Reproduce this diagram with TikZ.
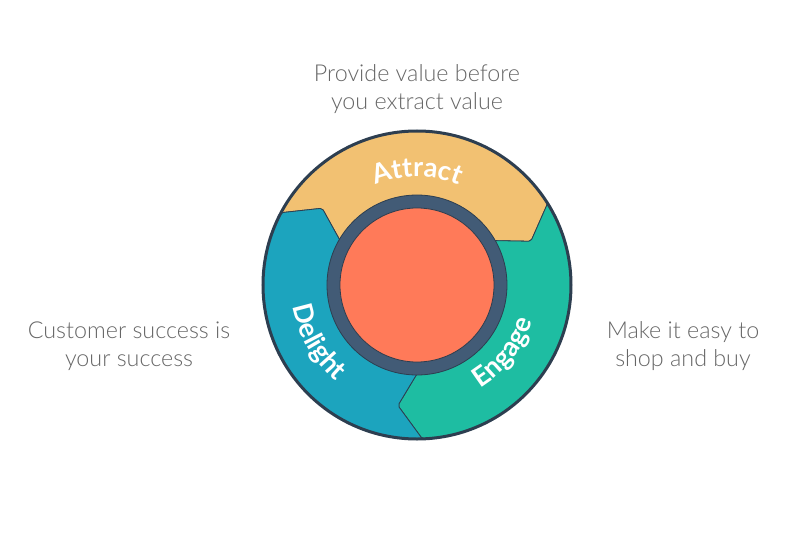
\documentclass[tikz,border=0pt]{standalone}
\usepackage{fontspec}
\setmainfont{Lato}
\newfontfamily\lightfont{Lato Light}
\usepackage{tikz}
\usetikzlibrary{decorations.text}
\definecolor{outline}{HTML}{2D3E50}
\definecolor{ringblue}{HTML}{425B76}
\definecolor{hubred}{HTML}{FF7A59}
\definecolor{attractc}{HTML}{F2C172}
\definecolor{engagec}{HTML}{1EBDA2}
\definecolor{delightc}{HTML}{1CA4BE}
\definecolor{notegray}{HTML}{666666}
\newcommand{\wheelfont}{\fontsize{27}{30}\selectfont\bfseries}
% one chevron sector: back angle, front angle, colour
\newcommand{\flysector}[3]{%
  \filldraw[#3, draw=outline, line width=0.8pt, rounded corners=2pt]
    (#1:154) arc[start angle=#1, end angle=#2, radius=154]
    -- ({#2-11}:122) -- (#2:84)
    arc[start angle=#2, end angle=#1, radius=84]
    -- ({#1-11}:122) -- cycle;}

\begin{document}
\begin{tikzpicture}[x=1pt, y=1pt,
    note/.style={align=center, text=notegray, font=\lightfont\fontsize{23.3}{28}\selectfont},
    wheeltext/.style={decorate, decoration={text along path, text align=center,
      text color=white, text={|\wheelfont|#1}}}]
  \useasboundingbox (-417,-248) rectangle (383,285);
  \coordinate (hub) at (0,0);
  \flysector{152}{32}{attractc}
  \flysector{32}{-88}{engagec}
  \flysector{272}{152}{delightc}
  \draw[outline, line width=3pt] (hub) circle (154);
  \filldraw[fill=ringblue, draw=outline, line width=0.8pt] (hub) circle (90);
  \filldraw[fill=hubred, draw=outline, line width=0.8pt] (hub) circle (77);
  % labels on the wheel
  \path[wheeltext=Attract] (150:108) arc[start angle=150, end angle=30, radius=108];
  \path[wheeltext=Delight] (150:126) arc[start angle=150, end angle=270, radius=126];
  \path[wheeltext=Engage] (262:121) arc[start angle=262, end angle=382, radius=121];
  % notes round the wheel
  \node[note] (attractnote) at (0,196) {Provide value before\\you extract value};
  \node[note] (delightnote) at (-288,-61) {Customer success is\\your success};
  \node[note] (engagenote) at (266,-61) {Make it easy to\\shop and buy};
\end{tikzpicture}
\end{document}
